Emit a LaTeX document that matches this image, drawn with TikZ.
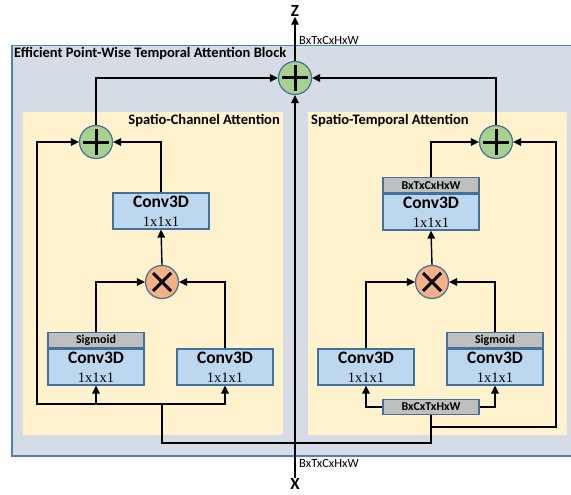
\documentclass[tikz,border=0pt]{standalone}
\usepackage{fontspec}
\setmainfont{Carlito}
\newfontfamily\dimfont{Liberation Serif}
\usetikzlibrary{arrows.meta,calc}
\definecolor{blockfill}{HTML}{D6DCE5}
\definecolor{blockline}{HTML}{4F81BD}
\definecolor{panelfill}{HTML}{FFF2CC}
\definecolor{convfill}{HTML}{BDD7EE}
\definecolor{convline}{HTML}{41719C}
\definecolor{barfill}{HTML}{BFBFBF}
\definecolor{addfill}{HTML}{A9D18E}
\definecolor{mulfill}{HTML}{F4B183}
\tikzset{
  arr/.style={draw=black, line width=1.4pt, -{Triangle[length=8pt,width=7.5pt]}},
  wire/.style={draw=black, line width=1.4pt},
  convbox/.style={draw=convline, fill=convfill, line width=1.2pt, minimum width=96pt,
    minimum height=36pt, inner sep=0pt, align=center, font=\fontsize{17.5}{18}\selectfont},
  barbox/.style={draw=convline, fill=barfill, line width=1.2pt, minimum width=96pt,
    minimum height=15pt, inner sep=0pt, font=\fontsize{12}{12}\selectfont\bfseries},
  addop/.style={circle, draw=convline, fill=addfill, line width=1.2pt, minimum size=33pt, inner sep=0pt,
    path picture={\draw[black, line width=3pt] ($(path picture bounding box.center)+(-13,0)$) -- ++(26,0)
      ($(path picture bounding box.center)+(0,-13)$) -- ++(0,26);}},
  mulop/.style={circle, draw=convline, fill=mulfill, line width=1.2pt, minimum size=33pt, inner sep=0pt,
    path picture={\draw[black, line width=3pt] ($(path picture bounding box.center)+(-9,-9)$) -- ++(18,18)
      ($(path picture bounding box.center)+(-9,9)$) -- ++(18,-18);}},
  dimlabel/.style={font=\fontsize{12.5}{13}\selectfont, inner sep=0pt, anchor=west},
  title/.style={font=\fontsize{14.5}{15}\selectfont\bfseries, inner sep=0pt},
  io/.style={font=\fontsize{17}{18}\selectfont\bfseries, inner sep=0pt}
}
\newcommand{\convtext}{\textbf{Conv3D}\\[1pt]{\dimfont\fontsize{14.5}{18}\selectfont 1x1x1}}
\begin{document}
\begin{tikzpicture}[x=1pt,y=-1pt]
\clip (0,0) rectangle (571,495);
\fill[white] (0,0) rectangle (571,495);
% block and the two attention panels
\filldraw[fill=blockfill, draw=blockline, line width=1.3pt] (12,45.5) rectangle (590,456);
\fill[panelfill] (23,112) rectangle (283,435);
\fill[panelfill] (308,112) rectangle (567,435);
\node[title, anchor=west] (blocktitle) at (14,54) {Efficient Point-Wise Temporal Attention Block};
\node[title, anchor=east] (sctitle) at (280,121) {Spatio-Channel Attention};
\node[title, anchor=west] (sttitle) at (311,121) {Spatio-Temporal Attention};

% input / output
\node[io] (X) at (295,484) {X};
\node[io] (Z) at (295,11) {Z};
\node[dimlabel] (dimin) at (299,463) {BxTxCxHxW};
\node[dimlabel] (dimout) at (299,40) {BxTxCxHxW};

% operators
\node[addop] (pT) at (295,78) {};
\node[addop] (pL) at (96,142) {};
\node[addop] (pR) at (496,142) {};
\node[mulop] (mL) at (162,282) {};
\node[mulop] (mR) at (432,282) {};

% spatio-channel branch
\node[convbox] (cL) at (161,211) {\convtext};
\node[convbox] (sL) at (96,367) {\convtext};
\node[barbox, anchor=south] (gL) at (sL.north) {Sigmoid};
\node[convbox] (cLL) at (225,367) {\convtext};

% spatio-temporal branch
\node[convbox] (cR) at (431,212) {\convtext};
\node[barbox, anchor=south] (gR) at (cR.north) {BxTxCxHxW};
\node[convbox] (cRL) at (366,367) {\convtext};
\node[convbox] (sR) at (495,367) {\convtext};
\node[barbox, anchor=south] (gRs) at (sR.north) {Sigmoid};
\node[barbox] (bR) at (431,407) {BxCxTxHxW};

% junctions
\coordinate (jL) at (162,404);
\coordinate (kL) at (37,404);
\coordinate (bus) at (295,443);
\coordinate (kR) at (431,427);
\coordinate (sR2) at (556,427);

% main path
\draw[arr] (X.north) -- (pT.south);
\draw[arr] (pT.north) -- (Z.south);
\draw[arr] (pL.north) |- (pT.west);
\draw[arr] (pR.north) |- (pT.east);

% spatio-channel connectors
\draw[wire] (bus) -| (jL);
\draw[arr] (jL) -| (sL.south);
\draw[arr] (jL) -| (cLL.south);
\draw[arr] (jL) -- (kL) |- (pL.west);
\draw[arr] (gL.north) |- (mL.west);
\draw[arr] (cLL.north) |- (mL.east);
\draw[arr] (mL.north) -- (cL.south);
\draw[arr] (cL.north) |- (pL.east);

% spatio-temporal connectors
\draw[wire] (bus) -| (bR.south);
\draw[arr] (kR) -- (sR2) |- (pR.east);
\draw[arr] (bR.west) -| (cRL.south);
\draw[arr] (bR.east) -| (sR.south);
\draw[arr] (cRL.north) |- (mR.west);
\draw[arr] (gRs.north) |- (mR.east);
\draw[arr] (mR.north) -- (cR.south);
\draw[arr] (gR.north) |- (pR.west);
\end{tikzpicture}
\end{document}
